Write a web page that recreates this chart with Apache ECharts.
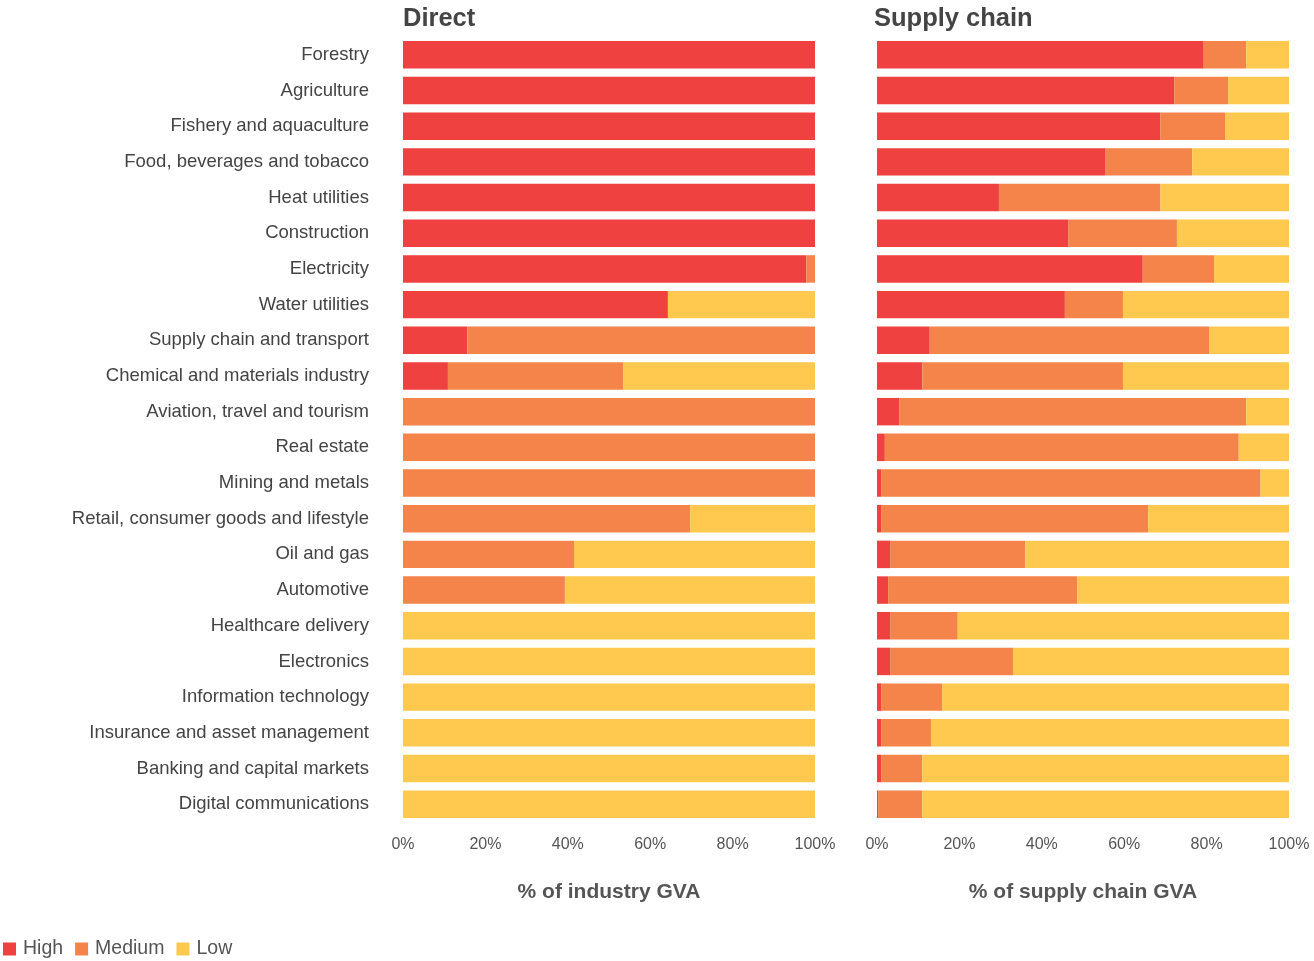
<!DOCTYPE html>
<html>
<head>
<meta charset="utf-8">
<script src="https://cdn.jsdelivr.net/npm/echarts@6/dist/echarts.min.js"></script>
<style>
html,body{margin:0;padding:0;background:#fff;}
#chart{width:1314px;height:961px;}
</style>
</head>
<body>
<div id="chart"></div>
<script>
const categories = ["Forestry","Agriculture","Fishery and aquaculture","Food, beverages and tobacco","Heat utilities","Construction","Electricity","Water utilities","Supply chain and transport","Chemical and materials industry","Aviation, travel and tourism","Real estate","Mining and metals","Retail, consumer goods and lifestyle","Oil and gas","Automotive","Healthcare delivery","Electronics","Information technology","Insurance and asset management","Banking and capital markets","Digital communications"];

const directHigh   = [100,100,100,100,100,100,97.9,64.3,15.6,10.9,0,0,0,0,0,0,0,0,0,0,0,0];
const directMedium = [0,0,0,0,0,0,2.1,0,84.4,42.6,100,100,100,69.7,41.5,39.3,0,0,0,0,0,0];
const directLow    = [0,0,0,0,0,0,0,35.7,0,46.5,0,0,0,30.3,58.5,60.7,100,100,100,100,100,100];

const supplyHigh   = [79.3,72.2,68.8,55.5,29.6,46.5,64.5,45.6,12.8,11.0,5.4,1.9,1.0,1.0,3.3,2.7,3.3,3.3,1.0,1.0,1.0,0.3];
const supplyMedium = [10.3,13.0,15.8,21.0,39.2,26.3,17.3,14.1,67.9,48.7,84.2,85.9,92.1,64.8,32.7,45.9,16.3,29.7,14.8,12.1,10.0,10.7];
const supplyLow    = [10.4,14.8,15.4,23.5,31.2,27.2,18.2,40.3,19.3,40.3,10.4,12.2,6.9,34.2,64.0,51.4,80.4,67.0,84.2,86.9,89.0,89.0];

const xTicks = [0,20,40,60,80,100];
const colors = {High:'#EE4140', Medium:'#F4844A', Low:'#FEC94E'};

const font = 'Liberation Sans, Arial, sans-serif';
const chart = echarts.init(document.getElementById('chart'));

function xAx(idx, name){
  return {
    gridIndex: idx, type:'value', min:0, max:100, interval:20,
    axisLine:{show:false}, axisTick:{show:false}, splitLine:{show:false},
    axisLabel:{formatter: v => xTicks.includes(v) ? v + '%' : '', color:'#555', fontSize:16, fontFamily:font, margin:15},
    name: name, nameLocation:'middle', nameGap:60,
    nameTextStyle:{color:'#555', fontSize:21, fontWeight:'bold', fontFamily:font}
  };
}
function yAx(idx, showLabels){
  return {
    gridIndex: idx, type:'category', data: categories, inverse:true,
    axisLine:{show:false}, axisTick:{show:false}, splitLine:{show:false},
    axisLabel:{show: showLabels, color:'#444', fontSize:18.5, fontFamily:font, margin:34, padding:[7,0,0,0]}
  };
}
function bar(name, data, idx){
  return {
    name: name, type:'bar', stack:'s'+idx, xAxisIndex:idx, yAxisIndex:idx,
    data: data, barCategoryGap:'23%', itemStyle:{color: colors[name]},
    emphasis:{disabled:true}
  };
}

chart.setOption({
  animation:false,
  title:[
    {text:'Direct', left:398, top:1, textStyle:{color:'#444', fontSize:25.5, fontWeight:'bold', fontFamily:font}},
    {text:'Supply chain', left:869, top:1, textStyle:{color:'#444', fontSize:25.5, fontWeight:'bold', fontFamily:font}}
  ],
  legend:{
    data:['High','Medium','Low'], left:-2, top:934, itemWidth:13, itemHeight:13, itemGap:12,
    icon:'rect', textStyle:{color:'#555', fontSize:19.5, fontFamily:font, padding:[0,0,0,2]}
  },
  grid:[
    {left:403, width:412, top:37, height:785},
    {left:877, width:412, top:37, height:785}
  ],
  xAxis:[xAx(0,'% of industry GVA'), xAx(1,'% of supply chain GVA')],
  yAxis:[yAx(0,true), yAx(1,false)],
  series:[
    bar('High', directHigh, 0), bar('Medium', directMedium, 0), bar('Low', directLow, 0),
    bar('High', supplyHigh, 1), bar('Medium', supplyMedium, 1), bar('Low', supplyLow, 1)
  ]
});
</script>
</body>
</html>
